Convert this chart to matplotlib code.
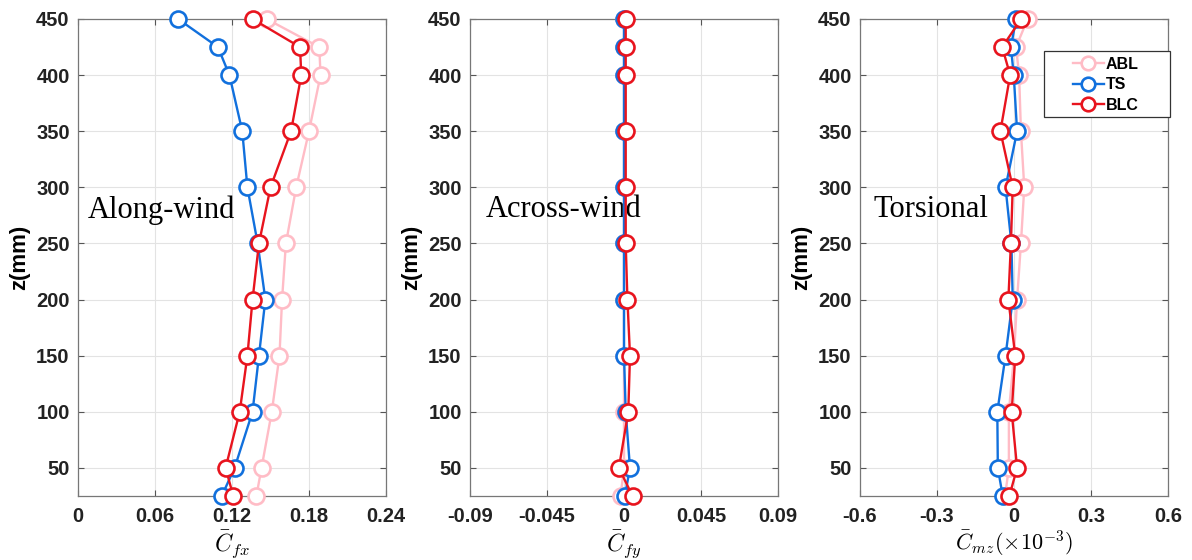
import numpy as np
import matplotlib
matplotlib.use("Agg")
import matplotlib.pyplot as plt
from matplotlib.patches import Rectangle

plt.rcParams['font.family'] = ['Liberation Sans', 'DejaVu Sans']
plt.rcParams['mathtext.fontset'] = 'cm'

# heights (mm)
z = [25, 50, 100, 150, 200, 250, 300, 350, 400, 425, 450]

# along-wind mean force coefficient
cfx_abl = [0.139, 0.143, 0.151, 0.157, 0.159, 0.162, 0.170, 0.180, 0.189, 0.188, 0.147]
cfx_ts = [0.112, 0.122, 0.136, 0.141, 0.146, 0.140, 0.132, 0.128, 0.118, 0.109, 0.078]
cfx_blc = [0.121, 0.115, 0.126, 0.132, 0.136, 0.141, 0.150, 0.166, 0.174, 0.173, 0.136]

# across-wind mean force coefficient
cfy_abl = [-0.002, 0.000, 0.000, 0.000, 0.000, 0.000, 0.000, 0.000, 0.000, 0.000, 0.000]
cfy_ts = [0.0005, 0.0035, 0.001, 0.000, 0.000, 0.000, 0.000, 0.000, 0.000, 0.000, 0.000]
cfy_blc = [0.005, -0.003, 0.0025, 0.0035, 0.002, 0.001, 0.001, 0.001, 0.001, 0.001, 0.001]

# torsional mean moment coefficient (x1e-3)
cmz_abl = [-0.035, -0.02, -0.02, 0.0, 0.012, 0.027, 0.040, 0.027, 0.020, 0.008, 0.053]
cmz_ts = [-0.044, -0.063, -0.065, -0.033, -0.005, -0.010, -0.033, 0.012, -0.001, -0.012, 0.008]
cmz_blc = [-0.018, 0.012, -0.009, 0.005, -0.022, -0.012, -0.005, -0.053, -0.015, -0.046, 0.028]

labels = ['ABL', 'TS', 'BLC']
colors = ['#FFBCC6', '#1170DD', '#E8141E']

panels = [
    (cfx_abl, cfx_ts, cfx_blc, (0, 0.24), [0, 0.06, 0.12, 0.18, 0.24],
     ['0', '0.06', '0.12', '0.18', '0.24'], r'$\bar{C}_{fx}$', 17, 'Along-wind', 0.032),
    (cfy_abl, cfy_ts, cfy_blc, (-0.09, 0.09), [-0.09, -0.045, 0, 0.045, 0.09],
     ['-0.09', '-0.045', '0', '0.045', '0.09'], r'$\bar{C}_{fy}$', 17, 'Across-wind', 0.052),
    (cmz_abl, cmz_ts, cmz_blc, (-0.6, 0.6), [-0.6, -0.3, 0, 0.3, 0.6],
     ['-0.6', '-0.3', '0', '0.3', '0.6'], r'$\bar{C}_{mz}(\times10^{-3})$', 16, 'Torsional', 0.045),
]

fig = plt.figure(figsize=(11.92, 5.6), dpi=100)
lefts = [78, 470, 860]

for i, (abl, ts, blc, xlim, xt, xtl, xlab, xls, title, tx) in enumerate(panels):
    ax = fig.add_axes([lefts[i] / 1192, 64 / 560, 308 / 1192, 477 / 560])
    for vals, lab, col in zip([abl, ts, blc], labels, colors):
        ax.plot(vals, z, '-o', color=col, lw=1.7, ms=11.5, mfc='white',
                mec=col, mew=1.9, label=lab, clip_on=False, zorder=3)
    ax.set_xlim(*xlim)
    ax.set_ylim(25, 450)
    ax.set_xticks(xt)
    ax.set_xticklabels(xtl)
    ax.set_yticks(np.arange(50, 451, 50))
    ax.grid(True, color='#e3e3e3', lw=0.8)
    ax.set_axisbelow(True)
    ax.tick_params(direction='in', top=True, right=True, length=4,
                   color='#555555', labelsize=14.5)
    ax.tick_params(axis='x', pad=8)
    ax.tick_params(axis='y', pad=6)
    for t in ax.get_xticklabels() + ax.get_yticklabels():
        t.set_fontweight('bold')
        t.set_color('#222222')
    for s in ax.spines.values():
        s.set_color('#777777')
        s.set_linewidth(0.9)
    ax.set_xlabel(xlab, fontsize=xls, labelpad=2)
    ax.set_ylabel('z(mm)', fontsize=16, fontweight='bold', labelpad=4)
    ax.text(tx, 0.6, title, transform=ax.transAxes, fontsize=22,
            family='Liberation Serif', va='center', ha='left', zorder=2)
    if i == 2:
        # MATLAB-style legend box, wider than its entries
        box = Rectangle((0.597, 0.795), 0.409, 0.138, transform=ax.transAxes,
                        facecolor='white', edgecolor='#333333', lw=0.9,
                        clip_on=False, zorder=4)
        ax.add_patch(box)
        leg = ax.legend(loc='upper left', bbox_to_anchor=(0.69, 0.921),
                        prop={'weight': 'bold', 'size': 11.5}, frameon=False,
                        handlelength=2.0, handletextpad=0.1, borderpad=0,
                        borderaxespad=0, labelspacing=0.35, markerscale=0.85)
        leg.set_zorder(5)

fig.savefig('out.png', dpi=100)
